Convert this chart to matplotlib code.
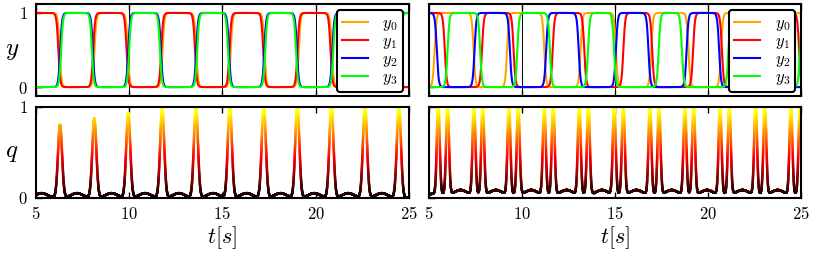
import numpy as np
import matplotlib
matplotlib.use('Agg')
import matplotlib.pyplot as plt
from matplotlib.collections import LineCollection
from matplotlib.ticker import FuncFormatter

plt.rcParams['mathtext.fontset'] = 'cm'
plt.rcParams['font.family'] = 'serif'

# switching times (seconds)
# left column: two synchronised pairs
left_y0_up = [8.14, 11.79, 15.45, 19.10, 22.69]
left_y0_down = [6.27, 9.93, 13.60, 17.26, 20.87, 24.47]
left_y1_up = [8.07, 11.72, 15.38, 19.03, 22.62]
left_y1_down = [6.20, 9.86, 13.53, 17.19, 20.80, 24.40]
left_y2_up = [6.30, 9.95, 13.60, 17.25, 20.90, 24.50]
left_y2_down = [8.05, 11.70, 15.35, 19.00, 22.60]
left_y3_up = [6.35, 10.00, 13.65, 17.30, 20.95, 24.55]
left_y3_down = [8.00, 11.65, 15.30, 18.95, 22.55]
left_start = [1, 1, 0, 0]

# right column: four phase shifted signals
right_y0_up = [5.30, 9.20, 13.15, 16.95, 20.70, 24.50]
right_y0_down = [7.40, 11.20, 15.05, 18.95, 22.80]
right_y1_up = [7.85, 11.65, 15.45, 19.20, 23.00]
right_y1_down = [5.85, 9.55, 13.35, 17.00, 20.75, 24.90]
right_y2_up = [7.45, 11.30, 15.05, 18.85, 22.65]
right_y2_down = [5.42, 9.35, 13.05, 16.80, 20.60, 24.40]
right_y3_up = [6.00, 9.75, 13.55, 17.35, 21.10, 24.95]
right_y3_down = [7.75, 11.50, 14.95, 18.60, 22.45]
right_start = [0, 1, 1, 0]

# q peaks and the small bumps between them
left_q_peak_t = [6.29, 8.13, 9.95, 11.77, 13.58, 15.40, 17.22, 19.02, 20.85, 22.65, 24.47]
left_q_peak_h = [0.80, 0.87, 0.93, 0.98, 1.00, 1.02, 1.02, 1.02, 1.02, 1.02, 1.02]
left_q_bump_t = [5.30, 7.20, 9.05, 10.85, 12.67, 14.50, 16.30, 18.12, 19.93, 21.75, 23.55]
left_q_bump_h = [0.05, 0.05, 0.05, 0.05, 0.05, 0.05, 0.05, 0.05, 0.05, 0.05, 0.05]
left_q_base = 0.0

right_q_peak_t = [5.50, 6.00, 7.42, 7.89, 9.30, 9.80, 11.20, 11.68, 13.08, 13.57, 14.96,
                  15.45, 16.88, 17.37, 18.76, 19.23, 20.65, 21.15, 22.56, 23.06, 24.46, 24.95]
right_q_peak_h = [1.02] * 22
right_q_bump_t = [6.70, 8.60, 10.50, 12.40, 14.30, 16.15, 18.05, 19.95, 21.85, 23.75]
right_q_bump_h = [0.04, 0.04, 0.04, 0.04, 0.04, 0.04, 0.04, 0.04, 0.04, 0.04]
right_q_base = 0.045

labels = ['$y_0$', '$y_1$', '$y_2$', '$y_3$']
colors = ['#ffa500', '#ff0000', '#0000ff', '#00ff00']


def steps(t, start, ups, downs, w=0.05):
    y = np.full_like(t, float(start))
    for u in ups:
        y += 1.0 / (1.0 + np.exp(-(t - u) / w))
    for d in downs:
        y -= 1.0 / (1.0 + np.exp(-(t - d) / w))
    return y


def qcurve(t, base, pt, ph, bt, bh, sp, sb):
    q = np.full_like(t, base)
    for c, h in zip(pt, ph):
        q += h * np.exp(-0.5 * ((t - c) / sp) ** 2)
    for c, h in zip(bt, bh):
        q += h * np.exp(-0.5 * ((t - c) / sb) ** 2)
    return q


def draw_y(ax, t, sigs):
    for (start, ups, downs), lab, col in zip(sigs, labels, colors):
        ax.plot(t, steps(t, start, ups, downs), color=col, lw=1.5, label=lab)
    ax.set_ylim(-0.12, 1.12)
    ax.set_yticks([0, 1])
    ax.grid(axis='x', color='k', lw=0.7)
    leg = ax.legend(loc='upper right', fontsize=12, handlelength=1.6,
                    labelspacing=0.0, borderaxespad=0.35, borderpad=0.3,
                    framealpha=1, fancybox=True, handletextpad=0.85)
    leg.get_frame().set_edgecolor('k')
    leg.get_frame().set_linewidth(1.5)


def draw_q(ax, t, q):
    pts = np.column_stack([t, q]).reshape(-1, 1, 2)
    segs = np.concatenate([pts[:-1], pts[1:]], axis=1)
    lc = LineCollection(segs, cmap='hot', norm=plt.Normalize(0, 1.25), lw=1.8)
    lc.set_array(0.5 * (q[:-1] + q[1:]))
    lc.set_capstyle('round')
    ax.add_collection(lc)
    ax.set_ylim(0, 1)
    ax.set_yticks([0, 1])
    ax.set_xlabel('$t[s]$', fontsize=16, labelpad=1)


def style(ax):
    ax.set_xlim(5, 25)
    ax.set_xticks([5, 10, 15, 20, 25])
    ax.tick_params(direction='in', top=True, right=False, length=4, width=1,
                   labelsize=12, pad=6)
    fmt = FuncFormatter(lambda v, p: '$%g$' % v)
    ax.xaxis.set_major_formatter(fmt)
    ax.yaxis.set_major_formatter(fmt)
    for s in ax.spines.values():
        s.set_linewidth(1.5)


def main():
    t = np.linspace(5, 25, 6000)
    fig = plt.figure(figsize=(8.14, 2.62), dpi=100)
    ax_yl = fig.add_axes([0.0442, 0.6336, 0.458, 0.351])
    ax_yr = fig.add_axes([0.527, 0.6336, 0.457, 0.351])
    ax_ql = fig.add_axes([0.0442, 0.2454, 0.458, 0.347])
    ax_qr = fig.add_axes([0.527, 0.2454, 0.457, 0.347])

    left = [(left_start[0], left_y0_up, left_y0_down),
            (left_start[1], left_y1_up, left_y1_down),
            (left_start[2], left_y2_up, left_y2_down),
            (left_start[3], left_y3_up, left_y3_down)]
    right = [(right_start[0], right_y0_up, right_y0_down),
             (right_start[1], right_y1_up, right_y1_down),
             (right_start[2], right_y2_up, right_y2_down),
             (right_start[3], right_y3_up, right_y3_down)]

    for ax in (ax_yl, ax_yr, ax_ql, ax_qr):
        style(ax)

    draw_y(ax_yl, t, left)
    draw_y(ax_yr, t, right)
    draw_q(ax_ql, t, qcurve(t, left_q_base, left_q_peak_t, left_q_peak_h,
                            left_q_bump_t, left_q_bump_h, 0.11, 0.3))
    draw_q(ax_qr, t, qcurve(t, right_q_base, right_q_peak_t, right_q_peak_h,
                            right_q_bump_t, right_q_bump_h, 0.075, 0.25))

    for ax in (ax_yl, ax_yr):
        ax.set_xticklabels([])
    ax_yr.set_yticklabels([])
    ax_qr.set_yticklabels([])

    ax_yl.set_ylabel('$y$', fontsize=18, rotation=0, va='center')
    ax_ql.set_ylabel('$q$', fontsize=18, rotation=0, va='center')
    for ax in (ax_yl, ax_ql):
        ax.yaxis.set_label_coords(-0.065, 0.5)

    fig.savefig('out.png', dpi=100)


if __name__ == "__main__":
    main()
